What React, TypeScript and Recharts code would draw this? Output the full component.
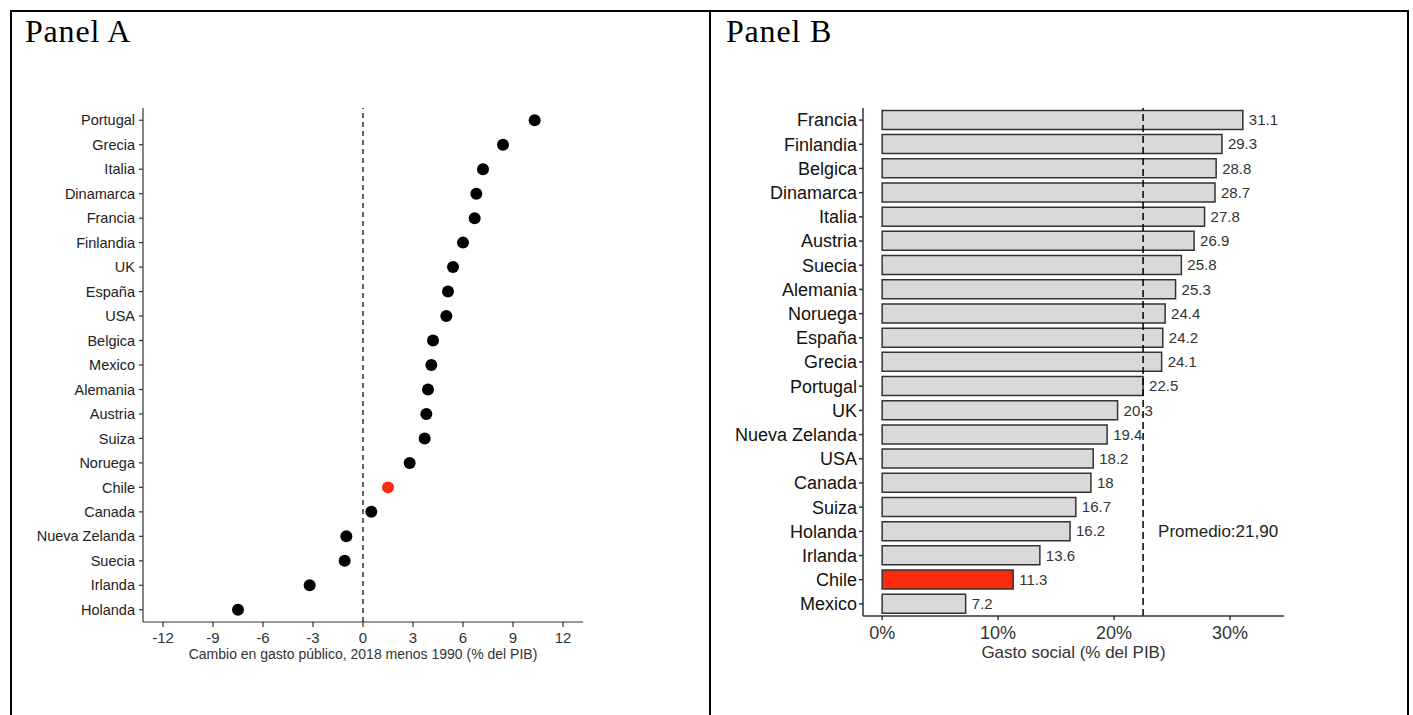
import React from 'react';
import {
  ScatterChart, Scatter, BarChart, Bar, XAxis, YAxis, ReferenceLine, ReferenceDot, LabelList, Cell,
} from 'recharts';

// Panel A: cambio en gasto publico 2018 - 1990 (% PIB)
const aCountries = [
  'Portugal', 'Grecia', 'Italia', 'Dinamarca', 'Francia', 'Finlandia', 'UK', 'España', 'USA', 'Belgica',
  'Mexico', 'Alemania', 'Austria', 'Suiza', 'Noruega', 'Chile', 'Canada', 'Nueva Zelanda', 'Suecia', 'Irlanda', 'Holanda',
];
const aValues = [10.3, 8.4, 7.2, 6.8, 6.7, 6.0, 5.4, 5.1, 5.0, 4.2, 4.1, 3.9, 3.8, 3.7, 2.8, 1.5, 0.5, -1.0, -1.1, -3.2, -7.5];
const aTicks = [-12, -9, -6, -3, 0, 3, 6, 9, 12];

// Panel B: gasto social (% PIB)
const bCountries = [
  'Francia', 'Finlandia', 'Belgica', 'Dinamarca', 'Italia', 'Austria', 'Suecia', 'Alemania', 'Noruega', 'España',
  'Grecia', 'Portugal', 'UK', 'Nueva Zelanda', 'USA', 'Canada', 'Suiza', 'Holanda', 'Irlanda', 'Chile', 'Mexico',
];
const bValues = [31.1, 29.3, 28.8, 28.7, 27.8, 26.9, 25.8, 25.3, 24.4, 24.2, 24.1, 22.5, 20.3, 19.4, 18.2, 18, 16.7, 16.2, 13.6, 11.3, 7.2];
const bTicks = [0, 10, 20, 30];
const promedioLinea = 22.5;
const promedioTexto = 'Promedio:21,90';

const highlight = 'Chile';
const RED = '#fb2a0c';
const FONT = '"Liberation Sans", Arial, sans-serif';

const dataA = aCountries.map((name, i) => ({ name, value: aValues[i] }));
const dataB = bCountries.map((name, i) => ({ name, value: bValues[i] }));

const Dot = (props: any) => (
  <circle
    cx={props.cx}
    cy={props.cy}
    r={6}
    fill={props.payload.name === highlight ? RED : '#000'}
  />
);

const panelTitle: React.CSSProperties = {
  position: 'absolute',
  top: 15,
  fontFamily: '"Liberation Serif", "Times New Roman", serif',
  fontSize: 32,
  lineHeight: '32px',
  letterSpacing: 0.8,
  color: '#000',
};

export default function App() {
  return (
    <div style={{ position: 'absolute', left: 0, top: 0, width: 1413, height: 715, background: '#fff', overflow: 'hidden' }}>
      {/* table frame */}
      <div style={{ position: 'absolute', left: 10, top: 10, width: 1395, height: 720, borderLeft: '2px solid #000', borderTop: '2px solid #000', borderRight: '2px solid #000' }} />
      <div style={{ position: 'absolute', left: 709, top: 10, width: 2, height: 720, background: '#000' }} />

      <div style={{ ...panelTitle, left: 25 }}>Panel A</div>
      <div style={{ ...panelTitle, left: 726 }}>Panel B</div>

      <div style={{ position: 'absolute', left: 0, top: 0 }}>
        <ScatterChart width={710} height={715} margin={{ top: 108, right: 127, left: 0, bottom: 71 }}>
          <XAxis
            type="number"
            dataKey="value"
            domain={[-13.2, 13.2]}
            ticks={aTicks}
            height={22}
            tickSize={5}
            tickMargin={5}
            stroke="#333"
            strokeWidth={1.2}
            tick={{ fill: '#333', fontSize: 15, fontFamily: FONT }}
            label={{ value: 'Cambio en gasto público, 2018 menos 1990 (% del PIB)', position: 'bottom', offset: 5, fill: '#333', fontSize: 14, fontFamily: FONT }}
          />
          <YAxis
            type="category"
            dataKey="name"
            reversed
            width={143}
            tickSize={4}
            tickMargin={4}
            interval={0}
            stroke="#333"
            strokeWidth={1.2}
            tick={{ fill: '#222', fontSize: 14.5, fontFamily: FONT }}
          />
          <ReferenceLine x={0} stroke="#000" strokeDasharray="5 4" strokeWidth={1.2} />
          <Scatter data={dataA} shape={Dot} isAnimationActive={false} />
        </ScatterChart>
      </div>

      <div style={{ position: 'absolute', left: 710, top: 0 }}>
        <BarChart
          width={700}
          height={715}
          data={dataB}
          layout="vertical"
          barCategoryGap="10%"
          margin={{ top: 108, right: 126, left: 0, bottom: 69 }}
        >
          <XAxis
            type="number"
            dataKey="value"
            domain={[-1.65, 34.65]}
            ticks={bTicks}
            tickFormatter={(v: number) => `${v}%`}
            height={30}
            tickSize={4}
            tickMargin={6}
            stroke="#333"
            strokeWidth={1.5}
            tick={{ fill: '#333', fontSize: 18, fontFamily: FONT }}
            label={{ value: 'Gasto social (% del PIB)', position: 'bottom', offset: 0, fill: '#333', fontSize: 17, fontFamily: FONT }}
          />
          <YAxis
            type="category"
            dataKey="name"
            width={153}
            tickSize={4}
            tickMargin={2}
            interval={0}
            stroke="#333"
            strokeWidth={1.5}
            tick={{ fill: '#111', fontSize: 18, fontFamily: FONT }}
          />
          <Bar dataKey="value" fill="#d9d9d9" stroke="#333" strokeWidth={1.5} isAnimationActive={false}>
            {dataB.map((d) => (
              <Cell key={d.name} fill={d.name === highlight ? RED : '#d9d9d9'} />
            ))}
            <LabelList dataKey="value" position="right" offset={6} fill="#333" fontSize={15} fontFamily={FONT} />
          </Bar>
          <ReferenceLine x={promedioLinea} stroke="#000" strokeDasharray="7 4" strokeWidth={1.5} />
          <ReferenceDot
            x={promedioLinea}
            y="Holanda"
            r={0}
            stroke="none"
            fill="none"
            label={{ value: promedioTexto, position: 'right', offset: 15, fill: '#222', fontSize: 17, fontFamily: FONT }}
          />
        </BarChart>
      </div>
    </div>
  );
}
